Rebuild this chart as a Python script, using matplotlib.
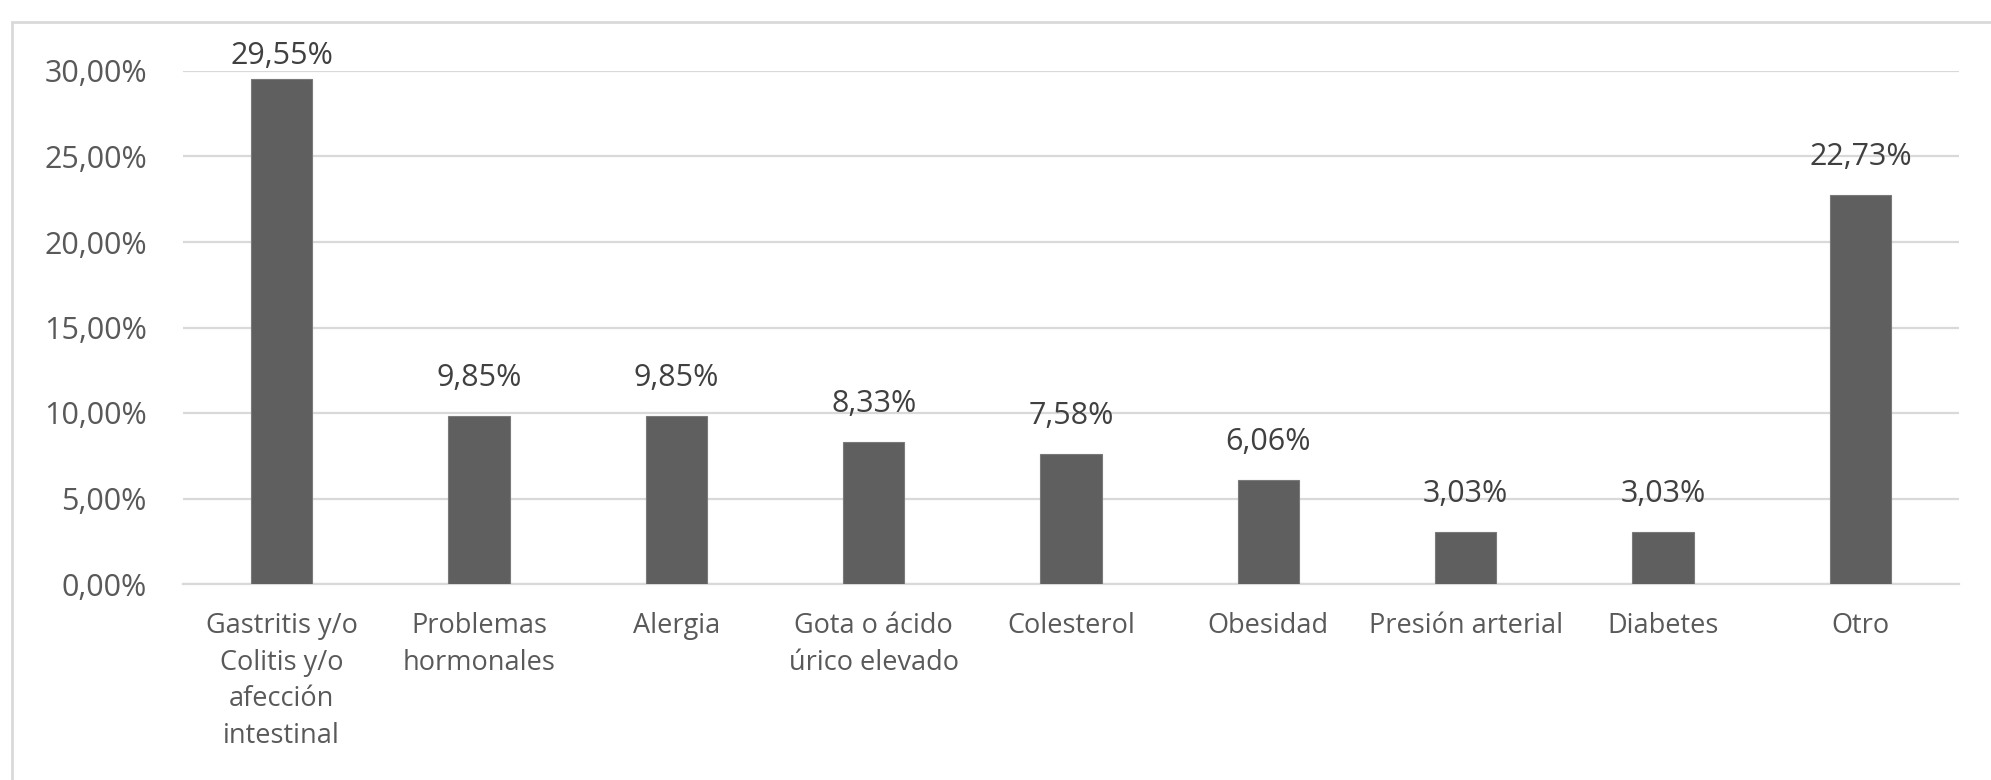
import matplotlib
matplotlib.use("Agg")
import matplotlib.pyplot as plt
from matplotlib.patches import Rectangle
from matplotlib.ticker import FuncFormatter
import numpy as np

# data
categories = ["Gastritis y/o\nColitis y/o\nafección\nintestinal",
              "Problemas\nhormonales",
              "Alergia",
              "Gota o ácido\núrico elevado",
              "Colesterol",
              "Obesidad",
              "Presión arterial",
              "Diabetes",
              "Otro"]
values = [29.55, 9.85, 9.85, 8.33, 7.58, 6.06, 3.03, 3.03, 22.73]
y_ticks = [0, 5, 10, 15, 20, 25, 30]

TEXT_COLOR = "#595959"
BAR_COLOR = "#5f5f5f"
GRID_COLOR = "#d9d9d9"
W, H = 1991, 780

plt.rcParams["font.family"] = ["Open Sans", "DejaVu Sans"]

fig = plt.figure(figsize=(W / 100, H / 100), dpi=100)
ax = fig.add_axes([183 / W, 1 - 584 / H, (1959 - 183) / W, (584 - 71) / H])

x = np.arange(len(categories))
ax.bar(x, values, width=0.31, color=BAR_COLOR, edgecolor="#7a7a7a",
       linewidth=0.8, zorder=3)

for xi, v in zip(x, values):
    # Excel pushes the label down when it would leave the plot area
    ty = min(v + 1.75, 30.43)
    ax.text(xi, ty, ("%.2f%%" % v).replace(".", ","), ha="center",
            va="baseline", fontsize=22, color="#404040", zorder=4)

ax.set_xlim(-0.5, len(categories) - 0.5)
ax.set_ylim(0, 30)
ax.set_yticks(y_ticks)
ax.yaxis.set_major_formatter(FuncFormatter(lambda v, p: ("%.2f%%" % v).replace(".", ",")))
ax.set_xticks(x)
ax.set_xticklabels(categories, fontsize=19.5, color=TEXT_COLOR, linespacing=1.42)
ax.tick_params(axis="y", length=0, pad=26, labelsize=22, labelcolor=TEXT_COLOR)
ax.tick_params(axis="x", length=0, pad=20)

ax.grid(axis="y", color=GRID_COLOR, linewidth=1.6, zorder=0)
for s in ["top", "right", "left"]:
    ax.spines[s].set_visible(False)
ax.spines["bottom"].set_color(GRID_COLOR)
ax.spines["bottom"].set_linewidth(1.6)

# outer chart border (only left and top visible in the crop)
fig.patches.append(Rectangle((12 / W, -0.1), 1.2, 1.1 - 22 / H,
                             transform=fig.transFigure, fill=False,
                             edgecolor=GRID_COLOR, linewidth=2))

fig.savefig("out.png", dpi=100)
